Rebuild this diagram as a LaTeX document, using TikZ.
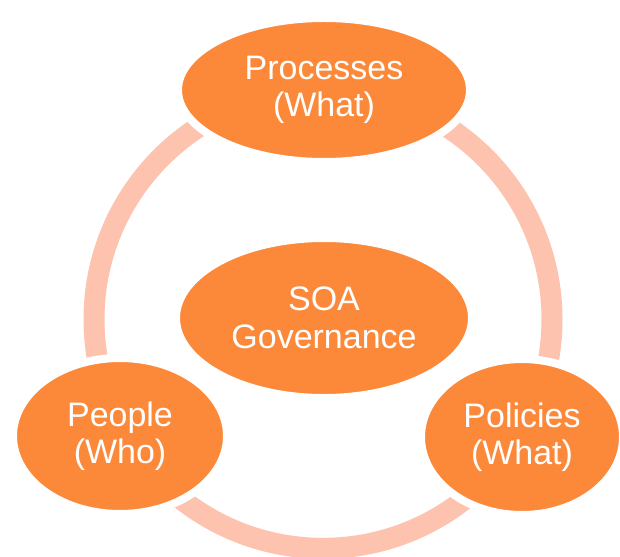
\documentclass[tikz,border=0pt]{standalone}
\usepackage{fontspec}
\setmainfont{Liberation Sans}
\usetikzlibrary{shapes.geometric}

\definecolor{govorange}{RGB}{252,137,58}
\definecolor{govring}{RGB}{253,195,175}

\begin{document}
\begin{tikzpicture}[
    blob/.style={ellipse, fill=govorange, draw=white, line width=0.24cm,
        text=white, align=center, inner sep=0pt, font=\fontsize{29}{32}\selectfont},
    ring/.style={draw=govring, line width=0.63cm}
]
    \useasboundingbox (0,0) rectangle (18.6,16.68);

    % the cycle behind the four areas
    \coordinate (hub) at (9.69,7.10);
    \draw[ring] (hub) circle (6.87);

    \node[blob, minimum width=8.88cm, minimum height=4.80cm] (core) at (9.72,7.14) {SOA\\Governance};
    \node[blob, minimum width=8.76cm, minimum height=4.32cm] (processes) at (9.72,13.98) {Processes\\(What)};
    \node[blob, minimum width=6.42cm, minimum height=4.68cm] (people) at (3.60,3.60) {People\\(Who)};
    \node[blob, minimum width=6.06cm, minimum height=4.68cm] (policies) at (15.66,3.57) {Policies\\(What)};
\end{tikzpicture}
\end{document}
